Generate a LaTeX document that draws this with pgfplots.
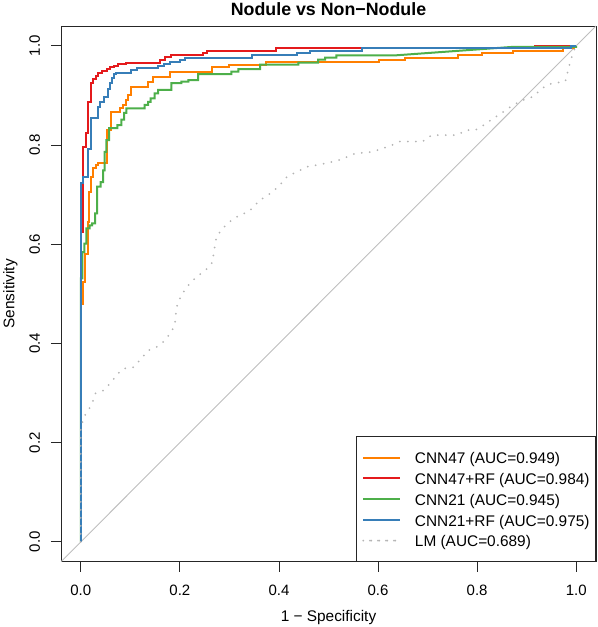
\documentclass[border=0pt]{standalone}
\usepackage{fontspec}
\setmainfont{Liberation Sans}
\usepackage{pgfplots}
\pgfplotsset{compat=1.18}
\definecolor{corange}{HTML}{FF7F00}
\definecolor{cred}{HTML}{E41A1C}
\definecolor{cgreen}{HTML}{4DAF4A}
\definecolor{cblue}{HTML}{377EB8}
\definecolor{clm}{HTML}{B4B4B4}
\definecolor{cdiag}{HTML}{BEBEBE}
\newcommand{\fs}{\fontsize{15bp}{17bp}\selectfont}
\newcommand{\fl}{\fontsize{15.4bp}{17bp}\selectfont}
\newcommand{\ft}{\fontsize{17.8bp}{20bp}\selectfont}
\begin{document}
\begin{tikzpicture}
\begin{axis}[
  name=ax,
  at={(0,0)}, anchor=south west,
  scale only axis,
  width=535bp, height=535.7bp,
  xmin=-0.04, xmax=1.04, ymin=-0.04, ymax=1.04,
  axis line style={black!85, line width=0.9bp},
  tick style={black!85, line width=0.9bp},
  tick align=outside, tick pos=left,
  major tick length=10bp,
  xtick={0,0.2,0.4,0.6,0.8,1}, ytick={0,0.2,0.4,0.6,0.8,1},
  xticklabels={0.0,0.2,0.4,0.6,0.8,1.0},
  yticklabels={0.0,0.2,0.4,0.6,0.8,1.0},
  ticklabel style={font=\fs},
  xticklabel style={anchor=base, yshift=-23.3bp},
  yticklabel style={rotate=90, anchor=base, yshift=11bp},
  title={Nodule vs Non\textminus Nodule},
  title style={font=\ft\bfseries, at={(axis description cs:0.5,1)}, anchor=base, yshift=4.5bp},
  xlabel={1 \textminus{} Specificity},
  xlabel style={font=\fl, at={(axis description cs:0.5,0)}, anchor=base, yshift=-60bp},
  ylabel={Sensitivity},
  ylabel style={font=\fl, at={(axis description cs:0,0.5)}, anchor=base, yshift=46.5bp},
  legend style={at={(axis description cs:1,0)}, anchor=south east,
    draw=black!85, line width=0.9bp, fill=white,
    inner xsep=6bp, inner ysep=10.3bp,
    font=\fl,
    nodes={inner sep=0pt, text height=16.7bp, text depth=4.05bp}},
  legend cell align=left,
  legend image code/.code={\path (0bp,0bp) -- (36.7bp,0bp); \draw[#1, line width=2bp] (6.7bp,0bp) -- (36.7bp,0bp);},
  /tikz/every odd column/.append style={column sep=14bp},
]
\addplot[forget plot, cdiag, line width=0.9bp] coordinates {(-0.04,-0.04) (1.04,1.04)};

% CNN47
\addplot[corange, line width=2bp] coordinates {
(0,0)(0,0.48)(0.005,0.48)(0.005,0.524)(0.009,0.524)(0.009,0.581)(0.0135,0.581)(0.0135,0.645)(0.016,0.645)(0.016,0.706)(0.020,0.706)(0.020,0.736)(0.025,0.736)(0.025,0.753)(0.030,0.753)(0.030,0.760)(0.035,0.760)(0.035,0.763)(0.052,0.763)(0.052,0.830)(0.061,0.830)(0.061,0.867)(0.079,0.867)(0.079,0.874)(0.0855,0.874)(0.0855,0.881)(0.092,0.881)(0.092,0.891)(0.0955,0.891)(0.0955,0.901)(0.102,0.901)(0.102,0.918)(0.136,0.918)(0.136,0.928)(0.146,0.928)(0.146,0.938)(0.180,0.938)(0.180,0.948)(0.264,0.948)(0.264,0.957)(0.300,0.957)(0.300,0.962)(0.374,0.962)(0.374,0.967)(0.601,0.967)(0.601,0.972)(0.655,0.972)(0.655,0.976)(0.762,0.976)(0.762,0.981)(0.810,0.981)(0.810,0.986)(0.873,0.986)(0.873,0.9905)(0.974,0.9905)(0.974,0.995)(0.995,0.995)(0.995,1)(1,1)};
\addlegendentry{CNN47 (AUC=0.949)}

% CNN47+RF
\addplot[cred, line width=2bp] coordinates {
(0,0)(0,0.625)(0.005,0.625)(0.005,0.797)(0.010,0.797)(0.010,0.824)(0.015,0.824)(0.015,0.887)(0.020,0.887)(0.020,0.925)(0.025,0.925)(0.025,0.933)(0.030,0.933)(0.030,0.940)(0.035,0.940)(0.035,0.945)(0.042,0.945)(0.042,0.950)(0.052,0.950)(0.052,0.953)(0.059,0.953)(0.059,0.958)(0.067,0.958)(0.067,0.960)(0.075,0.960)(0.075,0.963)(0.092,0.963)(0.092,0.966)(0.160,0.966)(0.160,0.972)(0.170,0.972)(0.170,0.977)(0.183,0.977)(0.183,0.981)(0.246,0.981)(0.246,0.9865)(0.255,0.9865)(0.255,0.9905)(0.394,0.9905)(0.394,0.9954)(0.917,0.9954)(0.917,1)(1,1)};
\addlegendentry{CNN47+RF (AUC=0.984)}

% CNN21
\addplot[cgreen, line width=2bp] coordinates {
(0,0)(0,0.531)(0.003,0.531)(0.003,0.584)(0.007,0.584)(0.007,0.601)(0.011,0.601)(0.011,0.632)(0.018,0.632)(0.018,0.638)(0.023,0.638)(0.023,0.642)(0.029,0.642)(0.029,0.662)(0.033,0.662)(0.033,0.716)(0.040,0.716)(0.040,0.725)(0.045,0.725)(0.045,0.749)(0.048,0.749)(0.048,0.786)(0.0515,0.786)(0.0515,0.810)(0.057,0.810)(0.057,0.834)(0.074,0.834)(0.074,0.840)(0.082,0.840)(0.082,0.851)(0.0875,0.851)(0.0875,0.865)(0.092,0.865)(0.092,0.874)(0.129,0.874)(0.129,0.881)(0.136,0.881)(0.136,0.887)(0.141,0.887)(0.141,0.894)(0.149,0.894)(0.149,0.904)(0.156,0.904)(0.156,0.911)(0.183,0.911)(0.183,0.925)(0.203,0.925)(0.203,0.928)(0.217,0.928)(0.217,0.931)(0.237,0.931)(0.237,0.943)(0.304,0.943)(0.304,0.948)(0.318,0.948)(0.318,0.953)(0.362,0.953)(0.362,0.962)(0.439,0.962)(0.439,0.966)(0.479,0.966)(0.479,0.972)(0.493,0.972)(0.493,0.976)(0.516,0.976)(0.516,0.981)(0.638,0.981)(0.873,0.998)(1,0.998)(1,1)};
\addlegendentry{CNN21 (AUC=0.945)}

% CNN21+RF
\addplot[cblue, line width=2bp] coordinates {
(0,0)(0,0.7226)(0.005,0.7226)(0.005,0.736)(0.015,0.736)(0.015,0.793)(0.020,0.793)(0.020,0.854)(0.034,0.854)(0.034,0.877)(0.038,0.877)(0.038,0.887)(0.047,0.887)(0.047,0.896)(0.055,0.896)(0.055,0.913)(0.059,0.913)(0.059,0.925)(0.063,0.925)(0.063,0.935)(0.068,0.935)(0.068,0.943)(0.072,0.943)(0.072,0.945)(0.102,0.945)(0.102,0.952)(0.113,0.952)(0.113,0.956)(0.156,0.956)(0.156,0.960)(0.167,0.960)(0.167,0.963)(0.180,0.963)(0.180,0.968)(0.200,0.968)(0.200,0.972)(0.210,0.972)(0.210,0.975)(0.345,0.975)(0.345,0.981)(0.436,0.981)(0.436,0.9865)(0.463,0.9865)(0.463,0.9905)(0.568,0.9905)(0.568,0.9954)(0.99,0.9954)(0.99,1)(1,1)};
\addlegendentry{CNN21+RF (AUC=0.975)}

% LM
\addplot[clm, line width=2bp, line cap=round, dash pattern=on 0bp off 8bp] coordinates {
(0,0)(0,0.23)(0.003,0.238)(0.005,0.251)(0.015,0.264)(0.025,0.285)(0.030,0.300)(0.045,0.305)(0.059,0.319)(0.075,0.339)(0.085,0.349)(0.106,0.352)(0.119,0.366)(0.136,0.386)(0.153,0.393)(0.166,0.403)(0.183,0.423)(0.190,0.440)(0.192,0.460)(0.195,0.480)(0.203,0.497)(0.214,0.514)(0.230,0.531)(0.254,0.550)(0.266,0.564)(0.269,0.588)(0.274,0.615)(0.287,0.633)(0.304,0.648)(0.321,0.659)(0.338,0.665)(0.362,0.689)(0.382,0.702)(0.399,0.716)(0.416,0.736)(0.436,0.746)(0.456,0.756)(0.479,0.760)(0.493,0.763)(0.523,0.770)(0.554,0.783)(0.587,0.786)(0.621,0.797)(0.644,0.807)(0.690,0.807)(0.708,0.820)(0.759,0.820)(0.779,0.830)(0.796,0.830)(0.813,0.840)(0.833,0.854)(0.853,0.867)(0.873,0.881)(0.894,0.891)(0.914,0.898)(0.927,0.911)(0.941,0.921)(0.954,0.925)(0.978,0.928)(0.984,0.952)(0.989,0.972)(0.995,0.988)(0.998,0.998)(1,1)};
\addlegendentry{LM (AUC=0.689)}
\end{axis}
\pgfresetboundingbox
\path (-61bp,-65.3bp) rectangle (537bp,561.7bp);
\end{tikzpicture}
\end{document}
